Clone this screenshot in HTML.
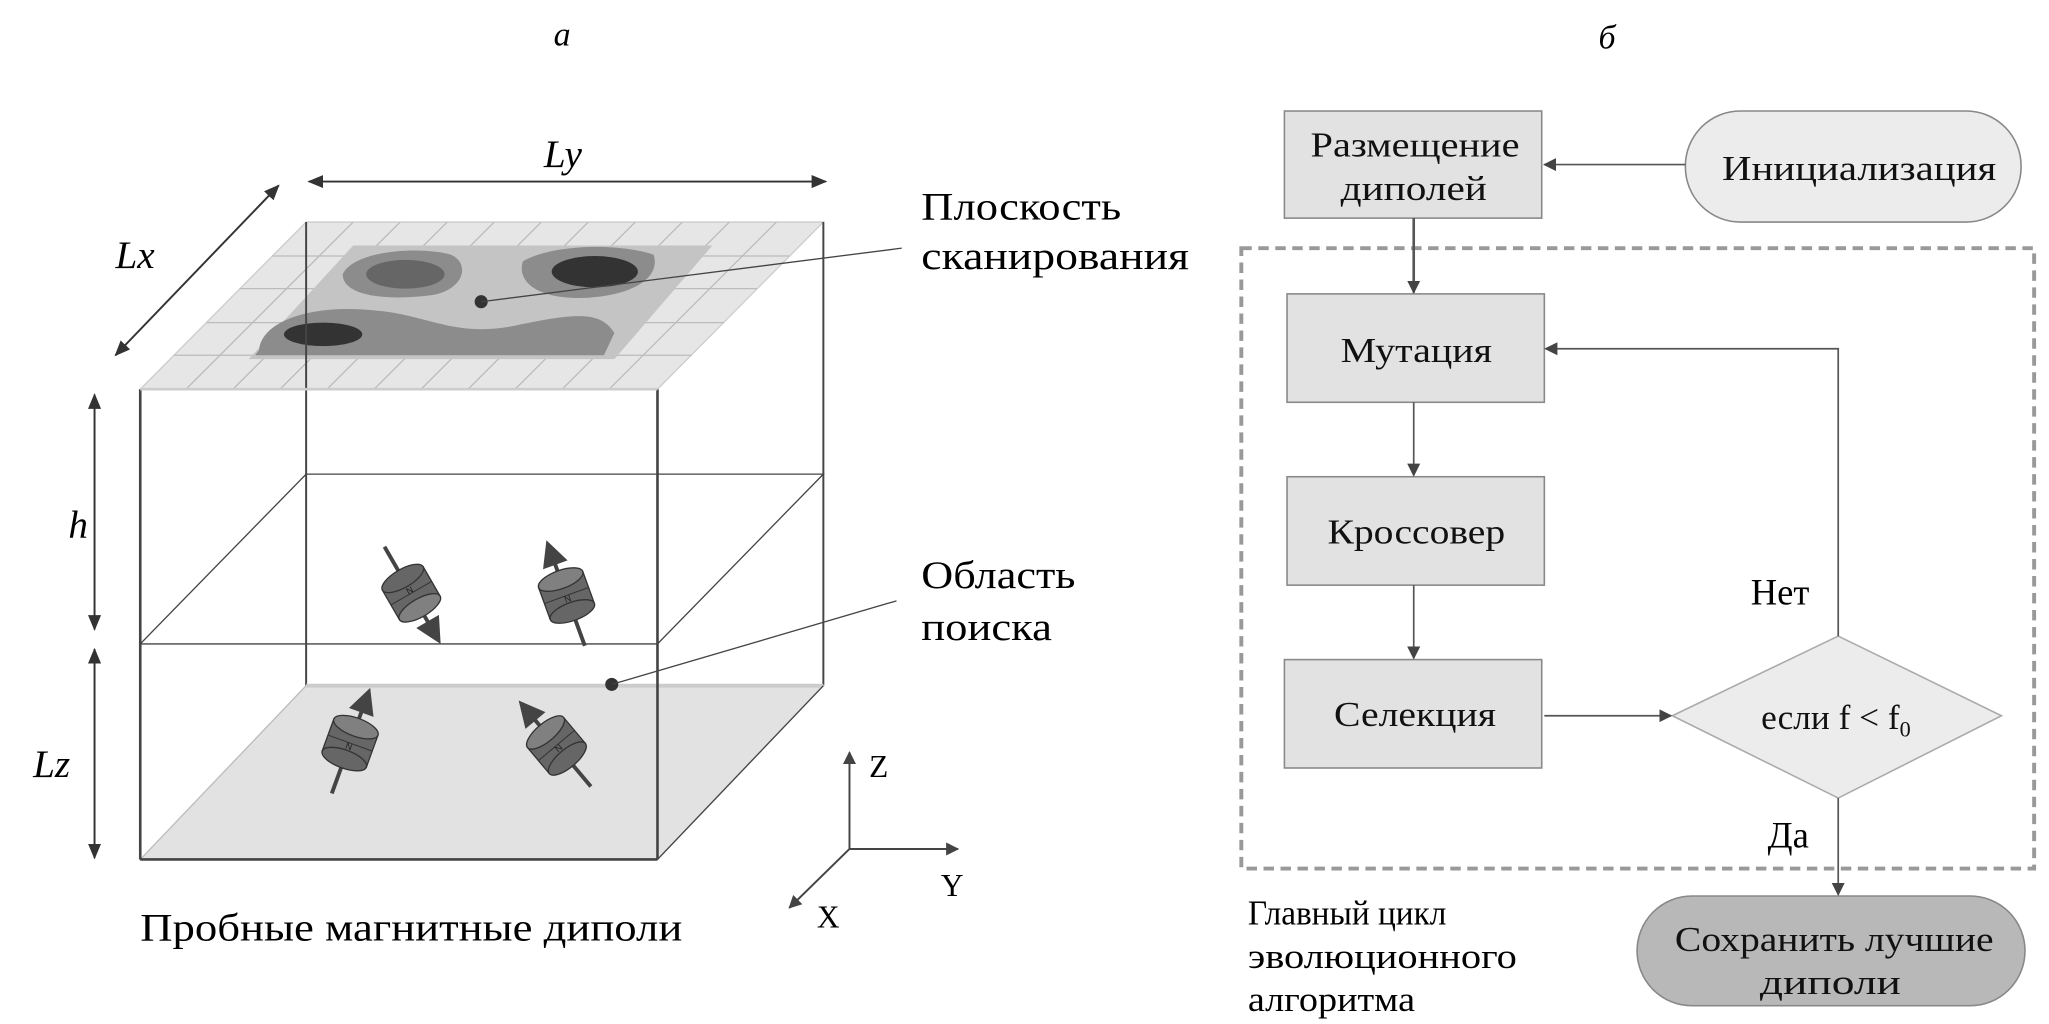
<!DOCTYPE html>
<html><head><meta charset="utf-8"><style>html,body{margin:0;padding:0;background:#fff}svg{display:block}</style></head>
<body>
<svg width="2049" height="1024" viewBox="0 0 1568 784" xmlns="http://www.w3.org/2000/svg" font-family="'Liberation Serif', serif">
<defs>
<marker id="ah" markerWidth="10" markerHeight="10" refX="9" refY="5" orient="auto" markerUnits="userSpaceOnUse"><path d="M0,0 L10,5 L0,10 z" fill="#444"/></marker>
<marker id="ah2" markerWidth="12" markerHeight="12" refX="11" refY="6" orient="auto-start-reverse" markerUnits="userSpaceOnUse"><path d="M0,1 L12,6 L0,11 z" fill="#333"/></marker>
<g id="dip">
<line x1="0" y1="42" x2="0" y2="-28" stroke="#444" stroke-width="3"/>
<path d="M-10,-24 L0,-44 L10,-24 z" fill="#444"/>
<rect x="-18" y="-12" width="36" height="26" fill="#666" stroke="#333" stroke-width="1"/>
<ellipse cx="0" cy="14" rx="18" ry="7" fill="#666" stroke="#333"/>
<ellipse cx="0" cy="-12" rx="18" ry="7" fill="#808080" stroke="#333"/>
<line x1="-18" y1="1" x2="18" y2="1" stroke="#333" stroke-width="0.8"/>
<text x="0" y="6" font-size="7" text-anchor="middle" fill="#222" font-family="'Liberation Sans',sans-serif">N</text>
</g>
</defs>

<text x="430" y="35" font-size="26" font-style="italic" text-anchor="middle">а</text>
<text x="1230" y="37" font-size="26" font-style="italic" text-anchor="middle">б</text>

<polygon points="107,298 503,298 630,170 234,170" fill="#e6e6e6" stroke="#ccc"/>
<g stroke="#bbb" stroke-width="1">
<line x1="133" y1="272" x2="529" y2="272"/><line x1="158" y1="247" x2="554" y2="247"/><line x1="183" y1="221" x2="579" y2="221"/><line x1="208" y1="196" x2="604" y2="196"/>
<line x1="142" y1="298" x2="270" y2="170"/><line x1="178" y1="298" x2="306" y2="170"/><line x1="214" y1="298" x2="342" y2="170"/><line x1="250" y1="298" x2="378" y2="170"/><line x1="286" y1="298" x2="414" y2="170"/><line x1="322" y1="298" x2="450" y2="170"/><line x1="358" y1="298" x2="486" y2="170"/><line x1="394" y1="298" x2="522" y2="170"/><line x1="430" y1="298" x2="558" y2="170"/><line x1="466" y1="298" x2="594" y2="170"/>
</g>
<polygon points="190,275 470,275 545,188 270,188" fill="#c4c4c4"/>
<path d="M198,268 C200,245 240,232 290,238 C330,242 350,260 400,248 C440,240 460,238 470,255 L462,272 L195,272 z" fill="#8c8c8c"/>
<path d="M262,210 C270,192 320,188 345,195 C360,202 355,222 330,226 C300,230 262,228 262,210 z" fill="#8c8c8c"/>
<path d="M400,200 C420,188 470,185 500,195 C505,210 490,225 450,228 C410,230 395,215 400,200 z" fill="#8c8c8c"/>
<ellipse cx="247" cy="256" rx="30" ry="9" fill="#333"/>
<ellipse cx="310" cy="210" rx="30" ry="11" fill="#666"/>
<ellipse cx="455" cy="208" rx="33" ry="12" fill="#333"/>
<g stroke="#444" stroke-width="1.5" fill="none">
<line x1="234" y1="170" x2="234" y2="525"/><line x1="630" y1="170" x2="630" y2="525"/>
<polygon points="107,493 503,493 630,363 234,363" stroke-width="1"/>
</g>
<polygon points="107,658 503,658 630,525 234,525" fill="#e2e2e2" stroke="#bbb"/>
<line x1="234" y1="525" x2="630" y2="525" stroke="#ccc" stroke-width="3"/>
<g stroke="#444" stroke-width="2" fill="none">
<line x1="107" y1="298" x2="107" y2="658"/><line x1="503" y1="298" x2="503" y2="658"/>
<line x1="107" y1="298" x2="503" y2="298" stroke="#ccc"/>
<line x1="107" y1="658" x2="503" y2="658"/><line x1="503" y1="658" x2="630" y2="525" stroke-width="1"/>
</g>
<g stroke="#333" stroke-width="1.5">
<line x1="236" y1="139" x2="632" y2="139" marker-start="url(#ah2)" marker-end="url(#ah2)"/>
<line x1="213" y1="142" x2="88" y2="272" marker-start="url(#ah2)" marker-end="url(#ah2)"/>
<line x1="72" y1="302" x2="72" y2="482" marker-start="url(#ah2)" marker-end="url(#ah2)"/>
<line x1="72" y1="497" x2="72" y2="657" marker-start="url(#ah2)" marker-end="url(#ah2)"/>
</g>
<g font-size="30" font-style="italic">
<text x="416" y="128">Ly</text><text x="88" y="205">Lx</text><text x="52" y="412">h</text><text x="25" y="595">Lz</text>
</g>
<use href="#dip" transform="translate(315,455) rotate(150)"/>
<use href="#dip" transform="translate(433,455) rotate(-20)"/>
<use href="#dip" transform="translate(268,568) rotate(20)"/>
<use href="#dip" transform="translate(425,570) rotate(-40)"/>
<circle cx="368" cy="231" r="5" fill="#333"/><line x1="368" y1="231" x2="690" y2="190" stroke="#444"/>
<circle cx="468" cy="524" r="5" fill="#333"/><line x1="468" y1="524" x2="686" y2="460" stroke="#444"/>
<g font-size="30">
<text x="705" y="168" textLength="153" lengthAdjust="spacingAndGlyphs">Плоскость</text>
<text x="705" y="206" textLength="205" lengthAdjust="spacingAndGlyphs">сканирования</text>
<text x="705" y="450" textLength="118" lengthAdjust="spacingAndGlyphs">Область</text>
<text x="705" y="490" textLength="100" lengthAdjust="spacingAndGlyphs">поиска</text>
<text x="107" y="720" textLength="415" lengthAdjust="spacingAndGlyphs">Пробные магнитные диполи</text>
</g>
<g stroke="#444" stroke-width="1.5">
<line x1="650" y1="650" x2="650" y2="576" marker-end="url(#ah)"/>
<line x1="650" y1="650" x2="733" y2="650" marker-end="url(#ah)"/>
<line x1="650" y1="650" x2="604" y2="695" marker-end="url(#ah)"/>
</g>
<g font-size="24"><text x="665" y="595">Z</text><text x="720" y="686">Y</text><text x="625" y="710">X</text></g>

<rect x="950" y="190" width="607" height="475" fill="none" stroke="#999" stroke-width="3" stroke-dasharray="8,5"/>
<g fill="#e2e2e2" stroke="#888" stroke-width="1.2">
<rect x="983" y="85" width="197" height="82"/>
<rect x="985" y="225" width="197" height="83"/>
<rect x="985" y="365" width="197" height="83"/>
<rect x="983" y="505" width="197" height="83"/>
<rect x="1290" y="85" width="257" height="85" rx="42" fill="#ececec"/>
<polygon points="1280,548 1407,487 1532,548 1407,611" fill="#ececec" stroke="#aaa"/>
<rect x="1253" y="686" width="297" height="84" rx="42" fill="#b8b8b8"/>
</g>
<g stroke="#555" stroke-width="1.3" fill="none">
<line x1="1290" y1="126" x2="1182" y2="126" marker-end="url(#ah)"/>
<line x1="1082" y1="167" x2="1082" y2="224" stroke-width="2" marker-end="url(#ah)"/>
<line x1="1082" y1="308" x2="1082" y2="364" marker-end="url(#ah)"/>
<line x1="1082" y1="448" x2="1082" y2="504" marker-end="url(#ah)"/>
<line x1="1182" y1="548" x2="1279" y2="548" marker-end="url(#ah)"/>
<polyline points="1407,487 1407,267 1183,267" marker-end="url(#ah)"/>
<line x1="1407" y1="611" x2="1407" y2="685" marker-end="url(#ah)"/>
</g>
<g font-size="27" fill="#111" lengthAdjust="spacingAndGlyphs">
<text x="1003" y="120" textLength="160" lengthAdjust="spacingAndGlyphs">Размещение</text>
<text x="1026" y="153" textLength="112" lengthAdjust="spacingAndGlyphs">диполей</text>
<text x="1318" y="138" textLength="210" lengthAdjust="spacingAndGlyphs">Инициализация</text>
<text x="1026" y="277" textLength="116" lengthAdjust="spacingAndGlyphs">Мутация</text>
<text x="1016" y="416" textLength="136" lengthAdjust="spacingAndGlyphs">Кроссовер</text>
<text x="1021" y="556" textLength="124" lengthAdjust="spacingAndGlyphs">Селекция</text>
<text x="1348" y="558">если f &lt; f<tspan font-size="17" dy="6">0</tspan></text>
<text x="1282" y="728" textLength="244" lengthAdjust="spacingAndGlyphs">Сохранить лучшие</text>
<text x="1347" y="761" textLength="108" lengthAdjust="spacingAndGlyphs">диполи</text>
</g>
<g font-size="28"><text x="1340" y="463">Нет</text><text x="1353" y="649">Да</text></g>
<g font-size="27">
<text x="955" y="708" textLength="152" lengthAdjust="spacingAndGlyphs">Главный цикл</text>
<text x="955" y="741" textLength="206" lengthAdjust="spacingAndGlyphs">эволюционного</text>
<text x="955" y="774" textLength="128" lengthAdjust="spacingAndGlyphs">алгоритма</text>
</g>
</svg>
</body></html>
